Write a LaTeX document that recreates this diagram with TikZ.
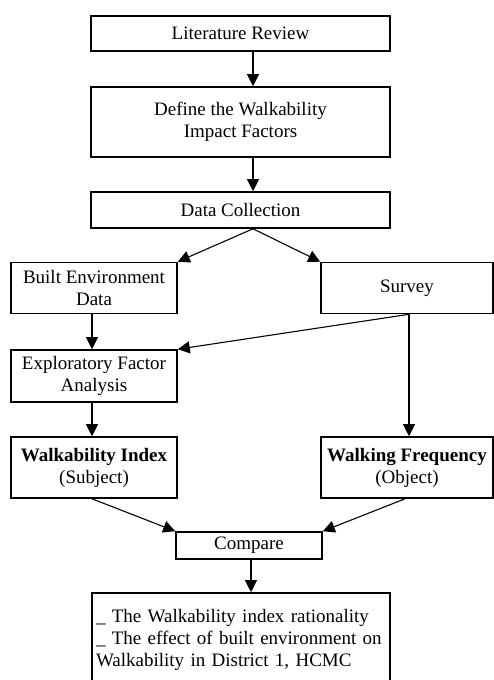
\documentclass[tikz,border=0pt]{standalone}
\usepackage{fontspec}
\setmainfont{Liberation Serif}
\usetikzlibrary{arrows.meta,positioning}

\begin{document}
\begin{tikzpicture}[>={Triangle[length=12pt,width=12pt]},on grid,
  font=\fontsize{19}{22}\selectfont,
  block/.style={draw,line width=1.6pt,align=center,inner sep=2pt},
  link/.style={->,line width=1.1pt}]

\useasboundingbox (0,0) rectangle (494pt,-680pt);

\node[block,minimum width=299pt,minimum height=35pt]   (lit) at (240.5pt,-33.5pt)   {Literature Review};
\node[block,minimum width=299pt,minimum height=70pt]   (def) [below=88.5pt of lit]   {Define the Walkability\\Impact Factors};
\node[block,minimum width=299pt,minimum height=36pt]   (data) [below=88pt of def]   {Data Collection};
\node[block,minimum width=166pt,minimum height=51pt]   (built) [below left=78pt and 146.5pt of data]   {Built Environment\\Data};
\node[block,minimum width=172pt,minimum height=51pt]   (survey) [right=313pt of built]   {Survey};
\node[block,minimum width=166pt,minimum height=52pt]   (efa) [below=88pt of built]   {Exploratory Factor\\Analysis};
\node[block,minimum width=166pt,minimum height=61pt]   (wi) [below=91.5pt of efa]   {\textbf{Walkability Index}\\(Subject)};
\node[block,minimum width=172pt,minimum height=61pt]   (wf) [right=313pt of wi]   {\textbf{Walking Frequency}\\(Object)};
\node[block,minimum width=146pt,minimum height=27pt]   (compare) [below right=78pt and 155pt of wi]   {Compare};
\node[block,text width=290pt,inner xsep=4pt,align=left,minimum height=94pt]   (result) [below left=94.5pt and 8pt of compare]
  {\_ The Walkability index rationality\\\_ The effect of built environment on\\Walkability in District 1, HCMC};

\draw[link] ([xshift=12.5pt]lit.south) -- ([xshift=12.5pt]def.north);
\draw[link] ([xshift=12.5pt]def.south) -- ([xshift=12.5pt]data.north);
\draw[link] ([xshift=12.5pt]data.south) -- (built.north east);
\draw[link] ([xshift=12.5pt]data.south) -- (survey.north west);
\draw[link] ([xshift=-2pt]built.south) -- ([xshift=-2pt]efa.north);
\draw[link] ([xshift=2pt]survey.south) -- (efa.north east);
\draw[link] ([xshift=2pt]survey.south) -- ([xshift=2pt]wf.north);
\draw[link] ([xshift=-2pt]efa.south) -- ([xshift=-2pt]wi.north);
\draw[link] ([xshift=-2pt]wi.south) -- (compare.north west);
\draw[link] ([xshift=-2pt]wf.south) -- (compare.north east);
\draw[link] ([xshift=2pt]compare.south) -- ([xshift=10pt]result.north);

\end{tikzpicture}
\end{document}
